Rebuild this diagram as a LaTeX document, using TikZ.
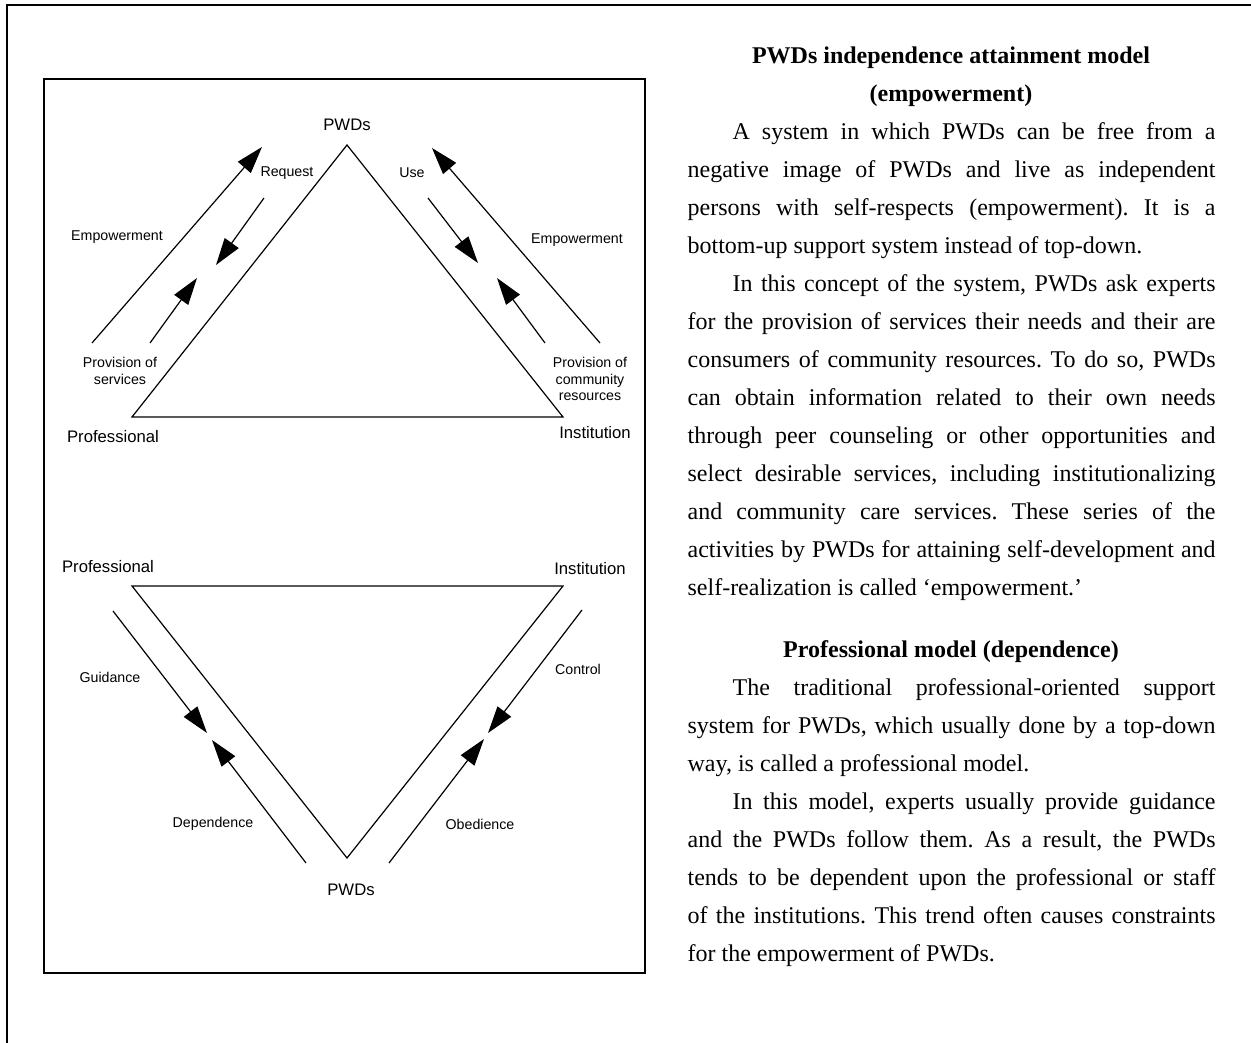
\documentclass[tikz,border=0pt]{standalone}
\usepackage{fontspec}
\setmainfont{Liberation Serif}
\setsansfont{Liberation Sans}
\usetikzlibrary{arrows.meta}
\hyphenpenalty=10000
\exhyphenpenalty=10000
\frenchspacing
\setlength{\parindent}{0pt}

\begin{document}
\begin{tikzpicture}[x=1pt,y=-1pt,line width=1.2pt,
   corner/.style={font=\sffamily\fontsize{16.7}{19}\selectfont,inner sep=0pt},
   lbl/.style={font=\sffamily\fontsize{14.2}{16.5}\selectfont,align=center,inner sep=0pt},
   arr/.style={-{Triangle[length=27pt,width=17pt]}},
   head/.style={font=\fontsize{24}{38}\selectfont\bfseries,align=center,inner sep=0pt,anchor=north},
   body/.style={font=\fontsize{24}{38}\selectfont,text width=528pt,align=justify,inner sep=0pt,anchor=north west}]
   \useasboundingbox (0,0) rectangle (1251,1043);
   \draw[line width=2.4pt] (7,1043) -- (7,5) -- (1251,5);
   \draw (44,79) rectangle (645,973);

   \coordinate (up) at (347,145);
   \coordinate (upl) at (132,417);
   \coordinate (upr) at (563,417);
   \draw (up) -- (upl) -- (upr) -- cycle;
   \node[corner] (pwds1) at (347,125) {PWDs};
   \node[corner] (prof1) at (113,437) {Professional};
   \node[corner] (inst1) at (595,433) {Institution};

   \coordinate (e1a) at (92,343);   \coordinate (e1b) at (262,147);
   \coordinate (r1a) at (264,198);  \coordinate (r1b) at (216,265);
   \coordinate (s1a) at (150,343);  \coordinate (s1b) at (197,278);
   \coordinate (e2a) at (600,343);  \coordinate (e2b) at (432,148);
   \coordinate (u2a) at (428,198);  \coordinate (u2b) at (478,263);
   \coordinate (c2a) at (545,343);  \coordinate (c2b) at (497,278);
   \draw[arr] (e1a) -- (e1b);
   \draw[arr] (r1a) -- (r1b);
   \draw[arr] (s1a) -- (s1b);
   \draw[arr] (e2a) -- (e2b);
   \draw[arr] (u2a) -- (u2b);
   \draw[arr] (c2a) -- (c2b);
   \node[lbl] (req) at (287,173) {Request};
   \node[lbl] (use) at (412,173) {Use};
   \node[lbl] (emp1) at (117,237) {Empowerment};
   \node[lbl] (emp2) at (577,240) {Empowerment};
   \node[lbl] (prov1) at (120,371) {Provision of\\services};
   \node[lbl] (prov2) at (590,379) {Provision of\\community\\resources};

   \coordinate (lol) at (132,586);
   \coordinate (lor) at (563,586);
   \coordinate (lob) at (347,858);
   \draw (lol) -- (lor) -- (lob) -- cycle;
   \node[corner] (prof2) at (108,567) {Professional};
   \node[corner] (inst2) at (590,569) {Institution};
   \node[corner] (pwds2) at (351,890) {PWDs};

   \coordinate (g3a) at (113,611);  \coordinate (g3b) at (207,733);
   \coordinate (d3a) at (306,863);  \coordinate (d3b) at (212,740);
   \coordinate (k4a) at (582,610);  \coordinate (k4b) at (488,733);
   \coordinate (o4a) at (389,863);  \coordinate (o4b) at (484,739);
   \draw[arr] (g3a) -- (g3b);
   \draw[arr] (d3a) -- (d3b);
   \draw[arr] (k4a) -- (k4b);
   \draw[arr] (o4a) -- (o4b);
   \node[lbl] (guid) at (110,677) {Guidance};
   \node[lbl] (ctrl) at (578,669) {Control};
   \node[lbl] (dep) at (213,824) {Dependence};
   \node[lbl] (obed) at (480,824) {Obedience};

   \node[head] (head1) at (951,46) {PWDs independence attainment model\\(empowerment)};
   \node[body] (par1) at (687,122) {\noindent\hspace*{45pt}A system in which PWDs can be free from a\linebreak
      negative image of PWDs and live as independent\linebreak
      persons with self-respects (empowerment). It is a\linebreak
      bottom-up support system instead of top-down.};
   \node[body] (par2) at (687,274) {\noindent\hspace*{45pt}In this concept of the system, PWDs ask experts\linebreak
      for the provision of services their needs and their are\linebreak
      consumers of community resources. To do so, PWDs\linebreak
      can obtain information related to their own needs\linebreak
      through peer counseling or other opportunities and\linebreak
      select desirable services, including institutionalizing\linebreak
      and community care services. These series of the\linebreak
      activities by PWDs for attaining self-development and\linebreak
      self-realization is called ‘empowerment.’};
   \node[head] (head2) at (951,640) {Professional model (dependence)};
   \node[body] (par3) at (687,678) {\noindent\hspace*{45pt}The traditional professional-oriented support\linebreak
      system for PWDs, which usually done by a top-down\linebreak
      way, is called a professional model.};
   \node[body] (par4) at (687,792) {\noindent\hspace*{45pt}In this model, experts usually provide guidance\linebreak
      and the PWDs follow them. As a result, the PWDs\linebreak
      tends to be dependent upon the professional or staff\linebreak
      of the institutions. This trend often causes constraints\linebreak
      for the empowerment of PWDs.};
\end{tikzpicture}
\end{document}
